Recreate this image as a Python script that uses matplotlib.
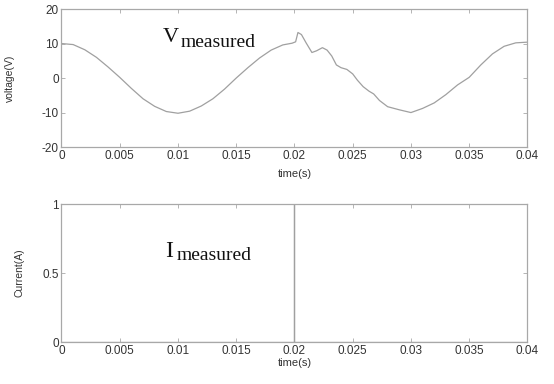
import numpy as np
import matplotlib
matplotlib.use('Agg')
import matplotlib.pyplot as plt

# voltage trace
t_v = [0, 0.001, 0.002, 0.003, 0.004, 0.005, 0.006, 0.007, 0.008, 0.009,
       0.010, 0.011, 0.012, 0.013, 0.014, 0.015, 0.016, 0.017, 0.018, 0.019,
       0.0198, 0.0201, 0.0203, 0.0206, 0.0210, 0.0215, 0.0219, 0.0224, 0.0228,
       0.0232, 0.0236, 0.0240, 0.0245, 0.0250, 0.0254, 0.0259, 0.0264, 0.0268,
       0.0273, 0.0280, 0.0290, 0.0300, 0.0310, 0.0320, 0.0330, 0.0340, 0.0350,
       0.0360, 0.0370, 0.0380, 0.0390, 0.0400]
v_meas = [10.0, 9.7, 8.2, 6.0, 3.2, 0.2, -3.0, -6.0, -8.2, -9.7,
          -10.2, -9.6, -8.1, -6.0, -3.2, 0.0, 3.0, 5.8, 8.1, 9.6,
          10.1, 10.5, 13.2, 12.6, 10.2, 7.4, 7.9, 8.8, 8.1,
          6.4, 3.8, 3.0, 2.5, 1.2, -0.6, -2.5, -3.8, -4.6,
          -6.5, -8.3, -9.2, -10.0, -8.8, -7.2, -4.8, -2.0, 0.2,
          3.8, 7.0, 9.2, 10.2, 10.4]

# current trace
t_i = [0, 0.02, 0.02, 0.02, 0.04]
i_meas = [0, 0, 1, 0, 0]

x_ticks = [0, 0.005, 0.01, 0.015, 0.02, 0.025, 0.03, 0.035, 0.04]
x_labels = ['0', '0.005', '0.01', '0.015', '0.02', '0.025', '0.03', '0.035', '0.04']
v_ticks = [-20, -10, 0, 10, 20]
i_ticks = [0, 0.5, 1]
i_labels = ['0', '0.5', '1']

plt.rcParams['font.family'] = ['Liberation Sans', 'DejaVu Sans']
plt.rcParams['axes.unicode_minus'] = False

grey = '#a8a8a8'
txt = '#333333'
serif = 'Liberation Serif'

fig = plt.figure(figsize=(5.54, 3.84), dpi=100)
ax1 = fig.add_axes([0.111, 0.617, 0.841, 0.3595])
ax2 = fig.add_axes([0.111, 0.109, 0.841, 0.3595])

ax1.plot(t_v, v_meas, color='#a0a0a0', lw=0.9)
ax1.set_ylim(-20, 20)
ax1.set_yticks(v_ticks)
ax1.set_ylabel('voltage(V)', fontsize=7.5, color=txt)
ax1.yaxis.set_label_coords(-0.10, 0.5)
ax1.set_xlabel('time(s)', fontsize=8, color=txt, labelpad=5)
# label: big V plus smaller "measured" set lower
ax1.text(0.0087, 10.4, 'V', fontsize=16, family=serif, color='#111111')
ax1.text(0.0102, 9.0, 'measured', fontsize=14, family=serif, color='#111111')

ax2.plot(t_i, i_meas, color='#a0a0a0', lw=0.9)
ax2.set_ylim(0, 1)
ax2.set_yticks(i_ticks)
ax2.set_yticklabels(i_labels)
ax2.set_ylabel('Current(A)', fontsize=7.5, color=txt)
ax2.yaxis.set_label_coords(-0.08, 0.5)
ax2.set_xlabel('time(s)', fontsize=8, color=txt, labelpad=1)
ax2.text(0.0089, 0.618, 'I', fontsize=17, family=serif, color='#111111')
ax2.text(0.0099, 0.596, 'measured', fontsize=14, family=serif, color='#111111')

for ax in (ax1, ax2):
    ax.set_xlim(0, 0.04)
    ax.set_xticks(x_ticks)
    ax.set_xticklabels(x_labels)
    ax.tick_params(direction='in', length=3, width=0.6, color=grey,
                   top=True, right=True, labelsize=8.5, labelcolor=txt, pad=2)
    for s in ax.spines.values():
        s.set_color(grey)
        s.set_linewidth(0.9)

fig.savefig('out.png', dpi=100)
